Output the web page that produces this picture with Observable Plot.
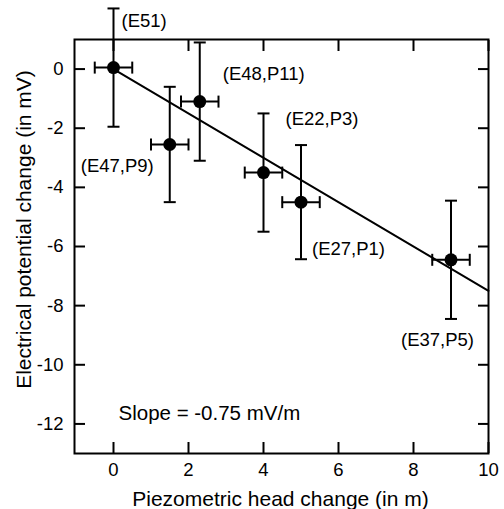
<!DOCTYPE html>
<html>
<head>
<meta charset="utf-8">
<script src="https://cdn.jsdelivr.net/npm/d3@7"></script>
<script src="https://cdn.jsdelivr.net/npm/@observablehq/plot@0.6"></script>
<style>
  html, body { margin: 0; padding: 0; background: #fff; }
</style>
</head>
<body>
<div id="chart"></div>
<script>
// ---- data ----
const labels = ["(E51)", "(E47,P9)", "(E48,P11)", "(E22,P3)", "(E27,P1)", "(E37,P5)"];
const headChange = [0, 1.5, 2.3, 4.0, 5.0, 9.0];
const headErr = [0.5, 0.5, 0.5, 0.5, 0.5, 0.5];
const potential = [0.05, -2.55, -1.1, -3.5, -4.5, -6.45];
const potentialErr = [2.0, 1.95, 2.0, 2.0, 1.93, 2.0];
const fitX = [0, 10];
const fitY = [0, -7.5];
const xTicks = [0, 2, 4, 6, 8, 10];
const yTicks = [0, -2, -4, -6, -8, -10, -12];

// label offsets (pixels, relative to point)
const labelDx = [8, -89, 23, 22, 11, -50];
const labelDy = [-47, 22, -28, -53, 47, 80];

const rows = labels.map((l, i) => ({
  label: l, x: headChange[i], ex: headErr[i], y: potential[i], ey: potentialErr[i]
}));
const fit = fitX.map((x, i) => ({x, y: fitY[i]}));

const capH = {draw(ctx) { ctx.moveTo(-6, 0); ctx.lineTo(6, 0); }};
const capV = {draw(ctx) { ctx.moveTo(0, -6); ctx.lineTo(0, 6); }};

const font = "'Liberation Sans', Arial, Helvetica, sans-serif";
const fmt = d => String(d);

const chart = Plot.plot({
  width: 504,
  height: 509,
  marginLeft: 74,
  marginRight: 16,
  marginTop: 39,
  marginBottom: 56,
  style: {fontFamily: font, fontSize: "18.5px", background: "#fff", color: "#000"},
  x: {domain: [-1.04, 10]},
  y: {domain: [-13, 1]},
  marks: [
    Plot.frame({strokeWidth: 2}),
    Plot.axisX({anchor: "bottom", ticks: xTicks, tickSize: -11, tickPadding: 20, tickFormat: fmt, strokeWidth: 2, label: null, fontSize: 18.5}),
    Plot.axisX({anchor: "top", ticks: xTicks, tickSize: -11, tickFormat: () => "", strokeWidth: 2, label: null}),
    Plot.axisY({anchor: "left", ticks: yTicks, tickSize: -11, tickPadding: 22, tickFormat: fmt, strokeWidth: 2, label: null, fontSize: 18.5}),
    Plot.axisY({anchor: "right", ticks: yTicks, tickSize: -11, tickFormat: () => "", strokeWidth: 2, label: null}),
    Plot.line(fit, {x: "x", y: "y", strokeWidth: 2, stroke: "black"}),
    Plot.ruleX(rows, {x: "x", y1: d => d.y - d.ey, y2: d => d.y + d.ey, strokeWidth: 2, stroke: "black"}),
    Plot.ruleY(rows, {y: "y", x1: d => d.x - d.ex, x2: d => d.x + d.ex, strokeWidth: 2, stroke: "black"}),
    Plot.dot(rows, {x: "x", y: d => d.y - d.ey, symbol: capH, stroke: "black", strokeWidth: 2, fill: "none"}),
    Plot.dot(rows, {x: "x", y: d => d.y + d.ey, symbol: capH, stroke: "black", strokeWidth: 2, fill: "none"}),
    Plot.dot(rows, {x: d => d.x - d.ex, y: "y", symbol: capV, stroke: "black", strokeWidth: 2, fill: "none"}),
    Plot.dot(rows, {x: d => d.x + d.ex, y: "y", symbol: capV, stroke: "black", strokeWidth: 2, fill: "none"}),
    Plot.dot(rows, {x: "x", y: "y", r: 6.5, fill: "black", stroke: "none"}),
    ...rows.map((d, i) => Plot.text([d], {
      x: "x", y: "y", text: "label", dx: labelDx[i], dy: labelDy[i],
      textAnchor: "start", lineAnchor: "middle", fontSize: 18.5, fill: "black"
    })),
    Plot.text(["Slope = -0.75 mV/m"], {
      frameAnchor: "bottom-left", text: d => d, dx: 44, dy: -40,
      textAnchor: "start", lineAnchor: "middle", fontSize: 20.5, fill: "black"
    }),
    Plot.text(["Piezometric head change (in m)"], {
      frameAnchor: "bottom", text: d => d, dx: -1, dy: 46,
      textAnchor: "middle", lineAnchor: "middle", fontSize: 21, fill: "black"
    }),
    Plot.text(["Electrical potential change (in mV)"], {
      frameAnchor: "left", text: d => d, dx: -50, dy: -17, rotate: -90,
      textAnchor: "middle", lineAnchor: "middle", fontSize: 21, fill: "black"
    })
  ]
});
document.getElementById("chart").appendChild(chart);
</script>
</body>
</html>
